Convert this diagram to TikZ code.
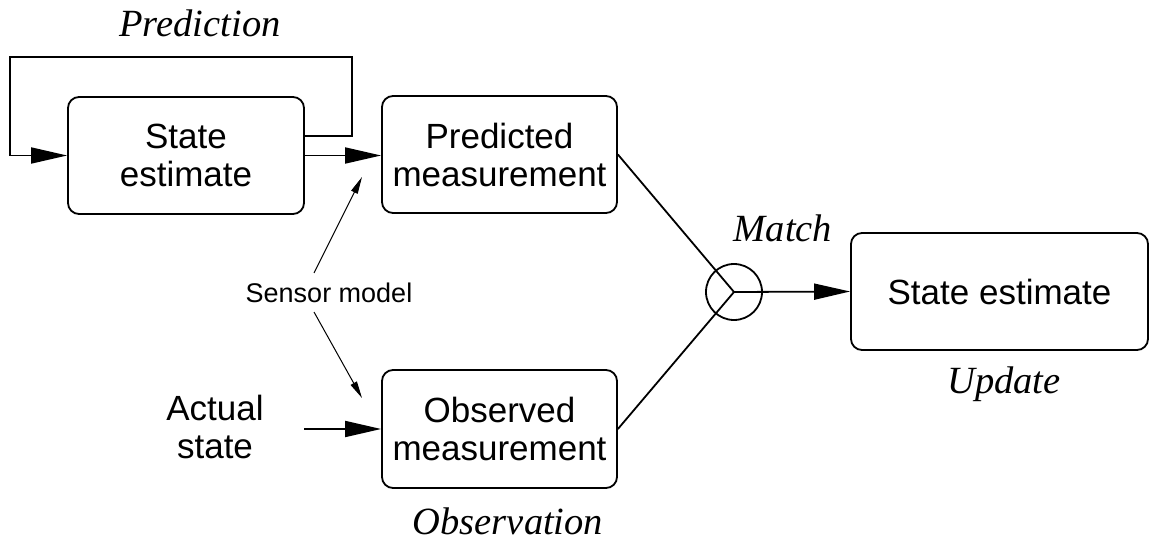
\documentclass[tikz,border=0pt]{standalone}
\usepackage{fontspec}
\setmainfont{Liberation Sans}
\newfontfamily\labelserif{Liberation Serif}
\usetikzlibrary{arrows.meta}
\begin{document}
\begin{tikzpicture}[x=1pt,y=-1pt,
  box/.style={draw, line width=1.8pt, rounded corners=11pt, align=center,
    font=\fontsize{35}{38}\selectfont, inner sep=0pt},
  wire/.style={line width=1.8pt},
  bigarrow/.style={wire, -{Triangle[length=36pt,width=16pt]}},
  thinarrow/.style={line width=1pt, -{Triangle[length=17pt,width=7pt]}},
  caption/.style={font=\labelserif\itshape\fontsize{38.5}{40}\selectfont, anchor=base},
]
\useasboundingbox (0,0) rectangle (1151,545);

% processing blocks
\node[box, minimum width=236pt, minimum height=117pt] (se) at (186,155.5) {State\\estimate};
\node[box, minimum width=235pt, minimum height=117pt] (pm) at (499.5,154.5) {Predicted\\measurement};
\node[box, minimum width=235pt, minimum height=118pt] (om) at (499.5,429) {Observed\\measurement};
\node[box, minimum width=297pt, minimum height=117pt] (up) at (999.5,291.5) {State estimate};
\node[draw, circle, line width=1.8pt, minimum size=56pt, inner sep=0pt] (mt) at (734,292) {};

% plain labels
\node[font=\fontsize{35}{38}\selectfont, align=center] (as) at (215,427) {Actual\\state};
\node[font=\fontsize{27}{30}\selectfont] (sm) at (329,293) {Sensor model};

% stage captions
\node[caption] (cp) at (200,37) {Prediction};
\node[caption] (cm) at (783,242) {Match};
\node[caption] (cu) at (1004,393) {Update};
\node[caption] (co) at (508,534) {Observation};

% prediction loop
\coordinate (lr) at (352,57);
\coordinate (ll) at (10,57);
\draw[bigarrow] ([yshift=19.5pt]se.east) -| (lr) -- (ll) |- (se.west);
\draw[bigarrow] (se.east) -- (se.east -| pm.west);

% sensor model arrows
\coordinate (pmin) at (362,177);
\coordinate (omin) at (362,398);
\draw[thinarrow] ([xshift=-15pt,yshift=20pt]sm.center) -- (pmin);
\draw[thinarrow] ([xshift=-15pt,yshift=-19pt]sm.center) -- (omin);

% actual state into observation
\coordinate (asout) at (304,429);
\draw[bigarrow] (asout) -- (asout -| om.west);

% matching and update
\draw[wire] (pm.east) -- (mt.center);
\draw[wire] (om.east) -- (mt.center);
\draw[bigarrow] (mt.center) -- (up.west);
\end{tikzpicture}
\end{document}
